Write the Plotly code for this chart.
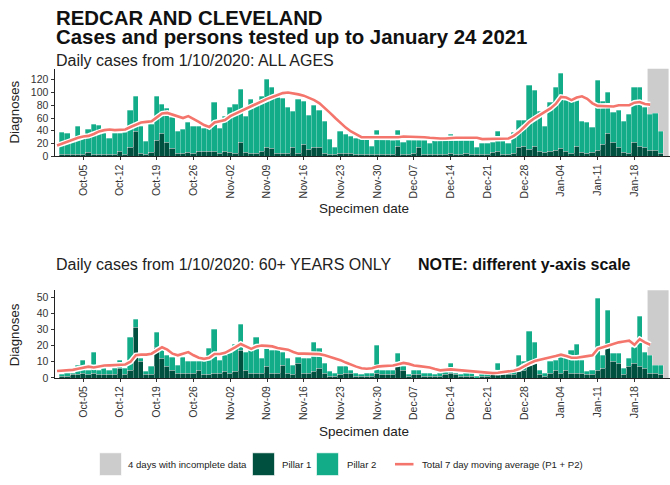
import pandas as pd
import plotly.graph_objects as go

W, H = 670, 485
FONT = "Liberation Sans, Arial, sans-serif"

# Daily counts, 1 Oct 2020 to 23 Jan 2021
bar_dates = pd.date_range("2020-10-01", periods=115, freq="D")
# 7 day average line, 30 Sep 2020 to 21 Jan 2021
avg_dates = pd.date_range("2020-09-30", periods=114, freq="D")

all_pillar1 = [3, 2, 2, 3, 3, 6, 3, 3, 2, 2,
               3, 8, 3, 13, 38, 5, 3, 6, 25, 35,
               22, 12, 4, 5, 6, 5, 8, 8, 7, 7,
               5, 7, 6, 5, 22, 6, 4, 5, 7, 13,
               12, 4, 4, 5, 13, 4, 19, 10, 13, 14,
               5, 3, 2, 4, 5, 4, 3, 3, 2, 2,
               3, 2, 3, 2, 15, 3, 3, 5, 14, 3,
               2, 3, 3, 3, 4, 3, 3, 4, 3, 2,
               2, 3, 6, 7, 3, 3, 4, 13, 15, 10,
               15, 7, 6, 8, 9, 12, 7, 5, 15, 6,
               5, 6, 9, 18, 36, 21, 14, 6, 5, 21,
               15, 14, 9, 9, 5]
all_pillar2 = [34, 33, 26, 43, 27, 36, 47, 45, 33, 25,
               33, 28, 34, 58, 55, 42, 20, 43, 69, 46,
               52, 48, 34, 37, 46, 41, 38, 36, 37, 77,
               38, 55, 71, 76, 82, 56, 85, 77, 86, 107,
               96, 88, 87, 72, 57, 85, 66, 54, 67, 58,
               49, 23, 11, 35, 29, 27, 24, 24, 25, 13,
               37, 24, 23, 22, 25, 19, 23, 26, 14, 25,
               18, 23, 21, 21, 30, 21, 21, 20, 21, 12,
               18, 17, 15, 31, 21, 17, 33, 43, 41, 100,
               88, 63, 41, 76, 99, 118, 80, 85, 72, 49,
               47, 39, 109, 67, 64, 47, 58, 49, 60, 86,
               92, 62, 56, 58, 33]
all_avg = [17, 20, 23, 27, 29, 31, 32, 35, 39, 41, 42, 41, 41, 42, 46, 50, 53,
           54, 55, 61, 67, 68, 65, 62, 60, 63, 59, 54, 49, 46, 53, 55, 57,
           63, 67, 71, 74, 78, 82, 87, 90, 93, 96, 99, 100, 99, 97, 95, 92, 88,
           83, 76, 68, 60, 52, 45, 39, 34, 30, 30, 30, 30, 30, 30, 29, 30, 31,
           31, 31, 30, 30, 29, 28, 28, 28,
           29, 29, 29, 29, 30, 29, 27, 27, 27, 28, 28, 28, 32, 38, 46, 54, 60,
           65, 70, 75, 82, 93, 92, 88, 92, 94, 90, 83, 79, 79, 79, 78, 80, 80,
           80, 84, 85, 82, 81]

old_pillar1 = [1, 1, 2, 2, 3, 2, 3, 2, 2, 2,
               2, 6, 2, 5, 31, 10, 2, 2, 19, 12,
               7, 5, 3, 3, 3, 3, 5, 2, 2, 3,
               3, 4, 3, 4, 17, 5, 3, 3, 3, 7,
               3, 3, 8, 3, 2, 9, 3, 3, 4, 6,
               3, 1, 1, 2, 3, 3, 1, 1, 1, 1,
               3, 2, 2, 2, 8, 5, 1, 2, 2, 1,
               1, 1, 1, 2, 3, 2, 1, 1, 1, 0,
               1, 1, 2, 2, 2, 2, 2, 4, 5, 8,
               9, 2, 1, 3, 5, 3, 5, 3, 3, 3,
               2, 2, 5, 6, 20, 10, 9, 2, 7, 9,
               7, 6, 3, 3, 2]
old_pillar2 = [1, 2, 1, 6, 8, 3, 13, 3, 4, 3,
               4, 5, 4, 20, 5, 2, 2, 5, 9, 6,
               7, 8, 5, 10, 7, 7, 5, 8, 16, 27,
               8, 10, 14, 17, 16, 11, 14, 22, 9, 12,
               14, 14, 8, 9, 6, 4, 9, 9, 18, 12,
               6, 3, 2, 5, 4, 2, 2, 1, 2, 2,
               17, 3, 3, 3, 7, 2, 1, 3, 3, 2,
               2, 1, 2, 3, 6, 1, 1, 2, 2, 1,
               1, 1, 3, 7, 3, 3, 3, 10, 5, 21,
               13, 3, 2, 7, 6, 12, 9, 14, 18, 8,
               2, 3, 44, 8, 22, 5, 6, 4, 5, 10,
               31, 10, 11, 5, 6]
old_avg = [4.3, 4.4, 4.5, 5, 5.7, 6.5, 7, 6.5, 7.3, 7.7, 7.8, 8, 8, 8.3, 10,
           14, 14.4, 14.4, 15, 17, 19, 17.5, 15, 14, 15, 16, 14, 12.5, 11.8,
           12.4, 14.8, 14.8, 15.5,
           17, 19, 21, 19.5, 18, 19.5, 20, 19.8, 19.5, 18.5, 18, 17.5, 16, 15,
           15, 15, 15, 14.7, 14, 13, 12, 11, 9.5, 8, 7, 6, 5.7, 6, 7, 7.3, 7.5,
           7.7, 8.5, 9.3, 8.7, 7.7, 7.3, 7, 6.5, 5.5, 4.7, 5,
           5.3, 5, 4.7, 4.5, 4.3, 4.2, 3.8, 3.4, 3, 3.2, 3.6, 4, 4.5, 5.5, 7.5,
           9, 10.5, 11.4, 12, 12.8, 13.5, 14.4, 13.5, 12.5, 12.5, 13.2, 13.5,
           14, 18, 19, 20, 21, 22, 22.5, 23, 20.5, 24, 22, 20.5]

tick_dates = pd.date_range("2020-10-05", periods=16, freq="7D")
tick_text = ["Oct-05", "Oct-12", "Oct-19", "Oct-26", "Nov-02", "Nov-09",
             "Nov-16", "Nov-23", "Nov-30", "Dec-07", "Dec-14", "Dec-21",
             "Dec-28", "Jan-04", "Jan-11", "Jan-18"]
all_yticks = [0, 20, 40, 60, 80, 100, 120]
old_yticks = [0, 10, 20, 30, 40, 50]

C_P1 = "#00503F"
C_P2 = "#12AC88"
C_AVG = "#F4756C"
C_GREY = "#CCCCCC"
DAY_MS = 86400000

incomplete_start = "2021-01-20 12:00"
incomplete_end = "2021-01-24 12:00"
x_range = ["2020-09-29 12:20", "2021-01-24 18:30"]


def px(x):
    return x / W


def py(y):
    return 1 - y / H


fig = go.Figure()

panels = [
    ("x", "y", all_pillar1, all_pillar2, all_avg),
    ("x2", "y2", old_pillar1, old_pillar2, old_avg),
]
for xa, ya, p1, p2, avg in panels:
    fig.add_trace(go.Bar(x=bar_dates, y=p1, width=DAY_MS, xaxis=xa, yaxis=ya,
                         marker=dict(color=C_P1, line=dict(color="rgba(255,255,255,0.6)", width=0.5)),
                         name="Pillar 1", showlegend=False))
    fig.add_trace(go.Bar(x=bar_dates, y=p2, width=DAY_MS, xaxis=xa, yaxis=ya,
                         marker=dict(color=C_P2, line=dict(color="rgba(255,255,255,0.6)", width=0.5)),
                         name="Pillar 2", showlegend=False))
    fig.add_trace(go.Scatter(x=avg_dates, y=avg, xaxis=xa, yaxis=ya, mode="lines",
                             line=dict(color="white", width=5.5),
                             hoverinfo="skip", showlegend=False))
    fig.add_trace(go.Scatter(x=avg_dates, y=avg, xaxis=xa, yaxis=ya, mode="lines",
                             line=dict(color=C_AVG, width=2.6),
                             name="Total 7 day moving average (P1 + P2)", showlegend=False))

axis_common = dict(showline=True, linecolor="#222222", linewidth=1, ticks="outside",
                   ticklen=3, tickcolor="#333333", showgrid=False, zeroline=False,
                   tickfont=dict(family=FONT, size=10.5, color="#333333"))

xdom = [px(54.5), 1.0]
fig.update_layout(
    width=W, height=H, margin=dict(l=0, r=0, t=0, b=0),
    paper_bgcolor="white", plot_bgcolor="white",
    barmode="stack", bargap=0, showlegend=False,
    font=dict(family=FONT, color="#222222"),
    xaxis=dict(domain=xdom, anchor="y", type="date", range=x_range,
               tickvals=tick_dates, ticktext=tick_text, tickangle=-90, **axis_common),
    yaxis=dict(domain=[py(158.3), py(69.5)], anchor="x", range=[0, 137.3],
               tickvals=all_yticks, **axis_common),
    xaxis2=dict(domain=xdom, anchor="y2", type="date", range=x_range,
                tickvals=tick_dates, ticktext=tick_text, tickangle=-90, **axis_common),
    yaxis2=dict(domain=[py(382.7), py(294)], anchor="x2", range=[0, 54.1],
                tickvals=old_yticks, **axis_common),
)

shapes = []
for xr, yr in [("x", "y domain"), ("x2", "y2 domain")]:
    shapes.append(dict(type="rect", xref=xr, yref=yr, x0=incomplete_start, x1=incomplete_end,
                       y0=0, y1=1, fillcolor=C_GREY, line=dict(width=0), layer="below"))

annotations = []


def text(s, x, y, size, bold=False, anchor="left", angle=0, color="#111111"):
    annotations.append(dict(
        text=f"<b>{s}</b>" if bold else s, xref="paper", yref="paper",
        x=px(x), y=py(y), xanchor=anchor, yanchor="middle", showarrow=False,
        textangle=angle, font=dict(family=FONT, size=size, color=color)))


text("REDCAR AND CLEVELAND", 54, 18, 20.4, bold=True)
text("Cases and persons tested up to January 24 2021", 54, 37.5, 20.4, bold=True)
text("Daily cases from 1/10/2020: ALL AGES", 54, 61, 16, color="#222222")
text("Daily cases from 1/10/2020: 60+ YEARS ONLY", 54, 267.5, 16, color="#222222")
text("NOTE: different y-axis scale", 416, 267.5, 16, bold=True)

text("Diagnoses", 14.5, 113.5, 13.3, anchor="center", angle=-90, color="#222222")
text("Diagnoses", 14.5, 339, 13.3, anchor="center", angle=-90, color="#222222")
text("Specimen date", 364, 211, 13.5, anchor="center", color="#222222")
text("Specimen date", 364, 437, 13.5, anchor="center", color="#222222")

# Legend drawn as keys and labels along the bottom
legend_keys = [
    (99.5, 121.5, C_GREY, "4 days with incomplete data", 126),
    (252.5, 274.5, C_P1, "Pillar 1", 280),
    (316.5, 338.5, C_P2, "Pillar 2", 345),
]
ly = 470
for x0, x1, col, label, tx in legend_keys:
    shapes.append(dict(type="rect", xref="paper", yref="paper",
                       x0=px(x0), x1=px(x1), y0=py(ly + 11.5), y1=py(ly - 11.5),
                       fillcolor=col, line=dict(color="rgba(255,255,255,0.8)", width=0.8)))
    text(label, tx, ly, 9.6, color="#222222")
shapes.append(dict(type="line", xref="paper", yref="paper",
                   x0=px(395), x1=px(413.5), y0=py(ly), y1=py(ly),
                   line=dict(color=C_AVG, width=2.6)))
text("Total 7 day moving average (P1 + P2)", 420, ly, 9.6, color="#222222")

fig.update_layout(shapes=shapes, annotations=annotations)
fig.write_html("out.html")
